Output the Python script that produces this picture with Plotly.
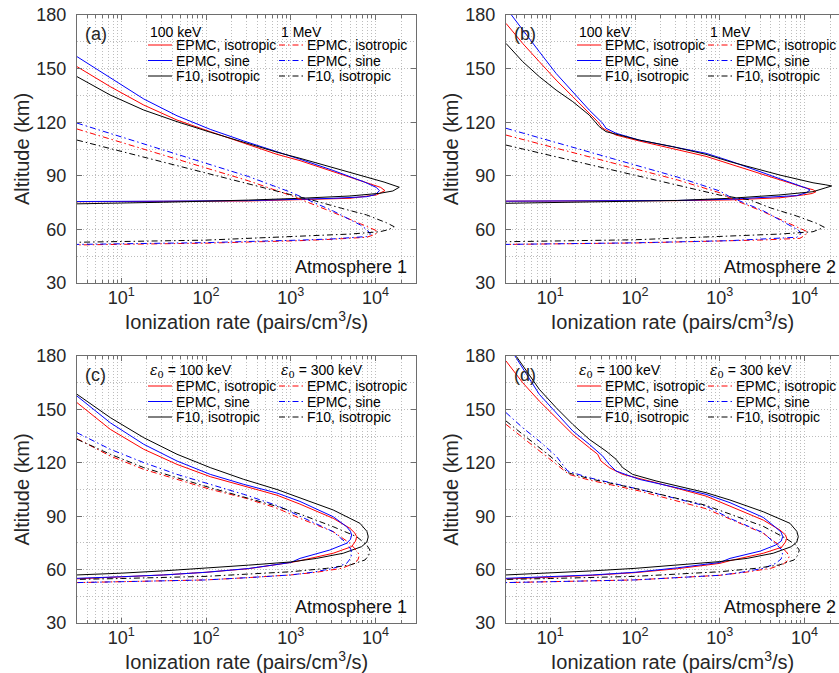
import math
import plotly.graph_objects as go

W, H = 839, 673

# ---------------- data (altitude km, ionization rate pairs/cm^3/s) ----------------
# Panel (a) Atmosphere 1, 100 keV (solid) and 1 MeV (dash-dot)
PA_ISO_LO_ALT = [151.1, 139.9, 129.6, 121.2, 114.7, 108.2, 102.0, 98.5, 92.3, 85.8, 83.5, 81.7, 79.3, 77.4, 76.5, 75.9, 75.7, 75.5]
PA_ISO_LO_RATE = [3.0, 7.4, 18.4, 45.4, 112, 278, 687, 1282, 3162, 7852, 11500, 12900, 10230, 4990, 1282, 316, 31.6, 3.0]
PA_SIN_LO_ALT = [156.7, 145.0, 133.0, 123.6, 116.0, 109.5, 103.6, 99.3, 93.0, 86.5, 83.5, 81.7, 79.5, 78.3, 77.4, 76.9, 76.1, 75.8, 75.6]
PA_SIN_LO_RATE = [3.0, 7.4, 18.4, 45.4, 112, 278, 687, 1282, 3162, 7400, 10200, 11100, 10000, 7852, 3162, 1282, 316, 31.6, 3.0]
PA_F10_LO_ALT = [145.5, 135.2, 126.8, 120.3, 114.4, 108.6, 103.2, 99.8, 94.5, 89.5, 86.5, 83.6, 81.5, 80.2, 78.7, 77.4, 76.4, 75.2, 74.3]
PA_F10_LO_RATE = [3.0, 7.4, 18.4, 45.4, 112, 278, 687, 1282, 3162, 7852, 12600, 19055, 16000, 11220, 4990, 1282, 316, 31.6, 3.0]
PA_ISO_HI_ALT = [116.2, 108.6, 101.4, 94.1, 87.2, 79.0, 77.0, 69.5, 63.2, 60.5, 59.1, 57.3, 55.6, 54.5, 53.7, 52.3, 51.3]
PA_ISO_HI_RATE = [3.0, 10, 31.6, 100, 316, 1000, 1282, 3162, 6607, 9000, 10471, 10000, 7852, 3162, 1282, 100, 3.0]
PA_SIN_HI_ALT = [119.5, 111.8, 104.4, 97.0, 89.6, 80.8, 78.5, 70.3, 62.5, 59.8, 57.4, 56.6, 56.0, 54.7, 54.0, 52.6, 51.6]
PA_SIN_HI_RATE = [3.0, 10, 31.6, 100, 316, 1000, 1282, 3162, 6607, 7943, 8700, 8400, 7852, 3162, 1282, 100, 3.0]
PA_F10_HI_ALT = [110.0, 103.7, 97.7, 91.7, 85.7, 79.7, 75.8, 71.8, 68.1, 63.7, 61.5, 59.8, 58.7, 57.4, 56.3, 54.0, 52.8]
PA_F10_HI_RATE = [3.0, 10, 31.6, 100, 316, 1000, 1995, 3981, 7852, 13490, 16596, 14125, 11220, 5012, 1282, 100, 3.0]

# Panel (b) Atmosphere 2, 100 keV (solid) and 1 MeV (dash-dot)
PB_ISO_LO_ALT = [175.3, 164.1, 153.9, 143.6, 134.3, 125.0, 120.3, 116.6, 112.8, 109.5, 105.4, 100.9, 96.6, 87.6, 83.6, 82.2, 81.1, 80.1, 79.3, 77.7, 76.5, 76.1, 75.9, 75.8]
PB_ISO_LO_RATE = [3.0, 4.72, 7.41, 11.7, 18.4, 28.8, 36.2, 41.5, 59.6, 112, 278, 687, 1318, 5129, 9661, 12600, 13646, 12300, 9661, 5129, 1318, 316, 31.6, 3.0]
PB_SIN_LO_ALT = [184.0, 180.0, 168.8, 159.5, 147.3, 137.1, 126.8, 119.4, 116.6, 113.8, 110.0, 106.3, 102.6, 98.3, 88.5, 84.3, 83.0, 82.1, 80.5, 78.9, 77.7, 76.9, 76.2, 75.9, 75.8]
PB_SIN_LO_RATE = [3.0, 3.47, 5.16, 7.41, 11.7, 18.4, 28.8, 41.5, 45.4, 59.6, 112, 278, 687, 1318, 5129, 8831, 10600, 11588, 10500, 8054, 3258, 1318, 316, 31.6, 3.0]
PB_F10_LO_ALT = [164.1, 153.9, 145.5, 138.0, 131.5, 124.0, 117.5, 114.7, 110.0, 106.3, 102.0, 97.9, 90.4, 86.1, 85.0, 84.3, 83.2, 81.1, 79.3, 77.4, 76.2, 75.3, 74.6]
PB_F10_LO_RATE = [3.0, 4.72, 7.41, 11.7, 18.4, 28.8, 37.8, 45.4, 112, 278, 687, 1318, 5129, 12589, 17500, 20893, 17500, 12589, 5129, 1318, 316, 31.6, 3.0]
PB_ISO_HI_ALT = [112.8, 106.3, 100.1, 93.9, 87.7, 80.5, 77.5, 69.9, 61.5, 59.8, 58.7, 57.0, 55.0, 54.1, 53.6, 52.4, 51.6]
PB_ISO_HI_RATE = [3.0, 10, 31.6, 100, 316, 1000, 1318, 3258, 8072, 10000, 10789, 10300, 8831, 3258, 1318, 100, 3.0]
PB_SIN_HI_ALT = [116.6, 109.5, 102.8, 96.0, 89.3, 81.5, 78.2, 70.4, 61.5, 59.5, 57.8, 56.6, 55.6, 54.5, 53.7, 52.5, 51.6]
PB_SIN_HI_RATE = [3.0, 10, 31.6, 100, 316, 1000, 1318, 3258, 7379, 8500, 9016, 8700, 8072, 3162, 1318, 100, 3.0]
PB_F10_HI_ALT = [107.2, 101.4, 95.8, 90.3, 84.7, 79.2, 76.5, 72.0, 67.5, 63.4, 61.2, 59.7, 58.7, 57.4, 56.3, 54.2, 53.1]
PB_F10_HI_RATE = [3.0, 10, 31.6, 100, 316, 1000, 2270, 3981, 8072, 13900, 17100, 14500, 12589, 5129, 1318, 100, 3.0]

# Panel (c) Atmosphere 1, eps0 = 100 keV (solid) and 300 keV (dash-dot)
PC_ISO_LO_ALT = [153.8, 138.8, 127.6, 119.1, 112.2, 107.0, 101.8, 96.8, 88.8, 83.2, 80.5, 78.5, 76.0, 72.9, 69.2, 65.0, 64.0, 60.5, 58.5, 57.0, 56.0, 54.8]
PC_ISO_LO_RATE = [3.0, 7.41, 18.4, 45.4, 112, 278, 687, 1282, 3162, 4989, 5700, 5984, 5800, 5224, 3162, 1282, 1000, 316, 100, 31.6, 10, 3.0]
PC_SIN_LO_ALT = [157.5, 142.5, 130.4, 121.0, 113.5, 107.9, 103.0, 98.3, 89.7, 84.1, 81.5, 79.4, 77.0, 74.8, 71.0, 66.3, 64.0, 60.6, 58.5, 57.0, 56.0, 55.1]
PC_SIN_LO_RATE = [3.0, 7.41, 18.4, 45.4, 112, 278, 687, 1282, 3162, 4560, 5050, 5224, 5050, 4560, 2884, 1282, 1000, 316, 100, 31.6, 10, 3.0]
PC_F10_LO_ALT = [158.5, 145.4, 134.1, 124.8, 117.3, 110.7, 105.0, 100.3, 93.5, 86.0, 81.5, 78.5, 75.5, 72.9, 69.2, 66.3, 64.8, 64.3, 62.5, 60.7, 59.3, 58.0, 57.0]
PC_F10_LO_RATE = [3.0, 7.41, 18.4, 45.4, 112, 278, 687, 1282, 3162, 6546, 7900, 8204, 7900, 6855, 4159, 2018, 1282, 1000, 316, 100, 31.6, 10, 3.0]
PC_ISO_HI_ALT = [133.6, 123.8, 116.3, 110.7, 105.1, 100.4, 94.5, 88.8, 81.3, 74.8, 70.5, 68.2, 65.5, 63.5, 60.7, 58.5, 57.0, 55.5, 54.2, 53.2, 52.7]
PC_ISO_HI_RATE = [3.0, 7.41, 18.4, 45.4, 112, 278, 687, 1282, 3162, 4989, 6000, 6442, 6200, 5600, 3981, 2000, 1000, 316, 100, 10, 3.0]
PC_SIN_HI_ALT = [136.9, 127.6, 120.1, 113.5, 107.9, 102.3, 96.0, 90.0, 81.3, 74.8, 71.5, 69.2, 66.5, 63.5, 60.7, 58.5, 57.0, 55.5, 54.2, 53.2, 52.7]
PC_SIN_HI_RATE = [3.0, 7.41, 18.4, 45.4, 112, 278, 687, 1282, 3162, 4560, 5100, 5224, 5100, 4560, 3162, 1800, 1000, 316, 100, 10, 3.0]
PC_F10_HI_ALT = [133.2, 124.8, 117.3, 111.6, 106.0, 100.8, 95.5, 91.2, 84.1, 78.5, 74.0, 71.0, 68.0, 65.4, 62.6, 60.7, 59.6, 58.8, 57.5, 56.2, 55.0, 54.5]
PC_F10_HI_RATE = [3.0, 7.41, 18.4, 45.4, 112, 278, 687, 1282, 3162, 5984, 7800, 8590, 8300, 7499, 5012, 2655, 1500, 1000, 316, 100, 10, 3.0]

# Panel (d) Atmosphere 2, eps0 = 100 keV (solid) and 300 keV (dash-dot)
PD_ISO_LO_ALT = [177.2, 165.0, 154.7, 145.4, 136.0, 128.5, 124.8, 121.0, 117.3, 113.5, 108.8, 101.3, 95.7, 87.8, 82.2, 79.5, 77.6, 75.5, 72.5, 69.2, 65.0, 63.5, 60.5, 58.3, 56.8, 55.6, 54.7]
PD_ISO_LO_RATE = [3.0, 4.72, 7.41, 11.7, 18.4, 28.8, 36.2, 39.6, 49.6, 71.4, 177, 687, 1318, 3258, 5129, 5950, 6152, 5950, 5346, 3258, 1318, 1000, 316, 100, 31.6, 10, 3.0]
PD_SIN_LO_ALT = [183.0, 180.0, 158.5, 148.2, 137.9, 130.4, 123.8, 119.1, 115.4, 110.7, 102.3, 97.6, 89.3, 83.7, 81.0, 78.5, 76.0, 73.8, 70.4, 66.3, 64.0, 61.0, 58.5, 57.0, 56.0, 55.1]
PD_SIN_LO_RATE = [3.55, 3.83, 7.41, 11.7, 18.4, 28.8, 41.5, 49.6, 59.6, 112, 687, 1318, 3258, 4560, 5300, 5521, 5300, 4560, 3000, 1318, 1000, 316, 100, 31.6, 10, 3.0]
PD_F10_LO_ALT = [184.0, 180.0, 161.3, 151.0, 141.6, 133.2, 126.6, 122.0, 117.3, 113.5, 109.8, 103.2, 99.1, 92.5, 86.0, 81.5, 78.5, 75.5, 72.9, 69.2, 66.3, 64.5, 62.5, 60.7, 59.3, 58.0, 57.0]
PD_F10_LO_RATE = [3.45, 3.94, 7.41, 11.7, 18.4, 28.8, 45.4, 59.6, 71.4, 93.5, 177, 687, 1318, 3258, 6730, 8100, 8433, 8100, 7000, 4266, 2100, 1000, 316, 100, 31.6, 10, 3.0]
PD_ISO_HI_ALT = [141.6, 134.1, 126.6, 119.1, 113.5, 110.3, 104.2, 94.2, 88.4, 80.4, 73.8, 70.0, 67.6, 65.0, 63.1, 60.7, 58.5, 56.8, 55.5, 54.2, 53.2, 52.7]
PD_ISO_HI_RATE = [3.0, 4.72, 7.41, 11.7, 16.6, 28.8, 112, 687, 1318, 3258, 4989, 6100, 6607, 6300, 5600, 3981, 2000, 1000, 316, 100, 10, 3.0]
PD_SIN_HI_ALT = [148.2, 139.7, 132.2, 123.8, 115.4, 111.6, 105.1, 95.7, 88.8, 80.7, 74.4, 71.5, 68.8, 66.0, 63.5, 60.7, 58.5, 56.8, 55.5, 54.2, 53.2, 52.7]
PD_SIN_HI_RATE = [3.0, 4.72, 7.41, 11.7, 16.0, 28.8, 112, 687, 1318, 3258, 4560, 5300, 5495, 5300, 4560, 3258, 1800, 1000, 316, 100, 10, 3.0]
PD_F10_HI_ALT = [143.5, 136.0, 128.5, 121.0, 114.5, 111.1, 105.1, 96.1, 91.2, 84.3, 77.6, 74.0, 71.0, 68.0, 65.4, 62.6, 60.7, 59.5, 58.8, 57.5, 56.2, 55.0, 54.5]
PD_F10_HI_RATE = [3.0, 4.72, 7.41, 11.7, 16.0, 28.8, 112, 687, 1318, 3258, 5984, 7800, 8670, 8300, 7499, 5012, 2655, 1500, 1000, 316, 100, 10, 3.0]

# Tick labels / texts
Y_TICKS = [30, 60, 90, 120, 150, 180]
Y_MINOR = [45, 75, 105, 135, 165]
X_TICKS = [10, 100, 1000, 10000]
X_TICKTEXT = ["10<sup>1</sup>", "10<sup>2</sup>", "10<sup>3</sup>", "10<sup>4</sup>"]
SERIES_LABELS = ["EPMC, isotropic", "EPMC, sine", "F10, isotropic"]
EPS = "<span style='font-family:DejaVu Serif'><i>ε</i><sub>0</sub></span>"
PANEL_INFO = [
    # key, atmosphere label, header low, header high
    ("a", "Atmosphere 1", "100 keV", "1 MeV"),
    ("b", "Atmosphere 2", "100 keV", "1 MeV"),
    ("c", "Atmosphere 1", EPS + " = 100 keV", EPS + " = 300 keV"),
    ("d", "Atmosphere 2", EPS + " = 100 keV", EPS + " = 300 keV"),
]
PANEL_DATA = {
    "a": [(PA_ISO_LO_ALT, PA_ISO_LO_RATE), (PA_SIN_LO_ALT, PA_SIN_LO_RATE), (PA_F10_LO_ALT, PA_F10_LO_RATE),
          (PA_ISO_HI_ALT, PA_ISO_HI_RATE), (PA_SIN_HI_ALT, PA_SIN_HI_RATE), (PA_F10_HI_ALT, PA_F10_HI_RATE)],
    "b": [(PB_ISO_LO_ALT, PB_ISO_LO_RATE), (PB_SIN_LO_ALT, PB_SIN_LO_RATE), (PB_F10_LO_ALT, PB_F10_LO_RATE),
          (PB_ISO_HI_ALT, PB_ISO_HI_RATE), (PB_SIN_HI_ALT, PB_SIN_HI_RATE), (PB_F10_HI_ALT, PB_F10_HI_RATE)],
    "c": [(PC_ISO_LO_ALT, PC_ISO_LO_RATE), (PC_SIN_LO_ALT, PC_SIN_LO_RATE), (PC_F10_LO_ALT, PC_F10_LO_RATE),
          (PC_ISO_HI_ALT, PC_ISO_HI_RATE), (PC_SIN_HI_ALT, PC_SIN_HI_RATE), (PC_F10_HI_ALT, PC_F10_HI_RATE)],
    "d": [(PD_ISO_LO_ALT, PD_ISO_LO_RATE), (PD_SIN_LO_ALT, PD_SIN_LO_RATE), (PD_F10_LO_ALT, PD_F10_LO_RATE),
          (PD_ISO_HI_ALT, PD_ISO_HI_RATE), (PD_SIN_HI_ALT, PD_SIN_HI_RATE), (PD_F10_HI_ALT, PD_F10_HI_RATE)],
}

# ---------------- styling ----------------
FONT = "Liberation Sans, Arial, Helvetica, sans-serif"
TXT = "#262626"
AXC = "#6e6e6e"
GRID = "#bdbdbd"
GRIDDASH = "1px,2px"
COLORS = ["#ff0000", "#0000ff", "#000000"]
DASHDOT = "6px,3px,1.5px,3px"
LINE_W = 1.0

# pixel layout of the four axes boxes: left, right, top, bottom
BOXES = {"a": (77, 416, 15, 283), "b": (506, 845, 15, 283),
         "c": (77, 416, 356, 623), "d": (506, 845, 356, 623)}
PX_PER_DECADE = 84.75
X_LO = math.log10(3.0)


def px(x):
    return x / W


def py(y):
    return 1 - y / H


fig = go.Figure()
layout = dict(width=W, height=H, margin=dict(l=0, r=0, t=0, b=0, pad=0, autoexpand=False),
              paper_bgcolor="white", plot_bgcolor="white", showlegend=False,
              font=dict(family=FONT, color=TXT))
annotations = []
shapes = []
minor_x = [k * 10 ** d for d in range(0, 5) for k in range(2, 10)]

for i, (key, atm, hlo, hhi) in enumerate(PANEL_INFO):
    n = "" if i == 0 else str(i + 1)
    l, r, t, b = BOXES[key]
    r_vis = min(r, W)            # the right-hand panels run past the picture edge
    x_hi = X_LO + (r_vis - l) / PX_PER_DECADE
    right_clipped = r > W
    for j, (alt, rate) in enumerate(PANEL_DATA[key]):
        fig.add_trace(go.Scatter(
            x=rate, y=alt, mode="lines", xaxis="x" + n, yaxis="y" + n,
            name=("low energy " if j < 3 else "high energy ") + SERIES_LABELS[j % 3],
            line=dict(color=COLORS[j % 3], width=LINE_W, dash="solid" if j < 3 else DASHDOT),
        ))
    layout["xaxis" + n] = dict(
        type="log", range=[X_LO, x_hi], domain=[px(l), px(r_vis)], anchor="y" + n, automargin=False,
        tickmode="array", tickvals=X_TICKS, ticktext=X_TICKTEXT,
        ticks="inside", ticklen=5, tickwidth=1, tickcolor=AXC,
        showline=True, linecolor=AXC, linewidth=1, mirror="ticks",
        showgrid=True, gridcolor=GRID, griddash=GRIDDASH, gridwidth=1, zeroline=False,
        minor=dict(tickmode="array", tickvals=minor_x, ticks="inside", ticklen=3,
                   tickcolor=AXC, showgrid=True, gridcolor=GRID, griddash=GRIDDASH, gridwidth=1),
        tickfont=dict(size=18, family=FONT, color=TXT), ticklabelstandoff=-2, ticklabeloverflow="allow",
        title=dict(text="Ionization rate (pairs/cm<sup>3</sup>/s)", font=dict(size=20, family=FONT, color=TXT), standoff=0),
    )
    layout["yaxis" + n] = dict(
        range=[30, 180], domain=[py(b), py(t)], anchor="x" + n, automargin=False,
        tickmode="array", tickvals=Y_TICKS,
        ticks="inside", ticklen=5, tickwidth=1, tickcolor=AXC,
        showline=True, linecolor=AXC, linewidth=1, mirror=False if right_clipped else "ticks",
        showgrid=True, gridcolor=GRID, griddash=GRIDDASH, gridwidth=1, zeroline=False,
        minor=dict(tickmode="array", tickvals=Y_MINOR, ticks="", showgrid=True,
                   gridcolor=GRID, griddash=GRIDDASH, gridwidth=1),
        tickfont=dict(size=18, family=FONT, color=TXT), ticklabelstandoff=6, ticklabeloverflow="allow",
        title=dict(text="Altitude (km)", font=dict(size=20, family=FONT, color=TXT), standoff=1),
    )
    # panel label and atmosphere label
    annotations.append(dict(text="(" + key + ")", x=px(l + 6), y=py(t + 19), xref="paper", yref="paper",
                            xanchor="left", yanchor="middle", showarrow=False,
                            font=dict(size=18, family=FONT, color=TXT)))
    annotations.append(dict(text=atm, x=px(l + 216), y=py(b - 16), xref="paper", yref="paper",
                            xanchor="left", yanchor="middle", showarrow=False,
                            font=dict(size=18, family=FONT, color="#111111")))
    # two-column legend
    hdr_dy = 17 if key in ("a", "b") else 15
    for c, hdr in enumerate([hlo, hhi]):
        cx = l + (71 if c == 0 else 202)
        annotations.append(dict(text=hdr, x=px(cx), y=py(t + hdr_dy), xref="paper", yref="paper",
                                xanchor="left", yanchor="middle", showarrow=False,
                                font=dict(size=14, family=FONT, color="#000000")))
        for k, lab in enumerate(SERIES_LABELS):
            ry = t + 30 + 15.5 * k
            shapes.append(dict(type="line", xref="paper", yref="paper",
                               x0=px(cx), x1=px(cx + 24), y0=py(ry), y1=py(ry),
                               line=dict(color=COLORS[k], width=LINE_W, dash="solid" if c == 0 else DASHDOT)))
            annotations.append(dict(text=lab, x=px(cx + 26), y=py(ry), xref="paper", yref="paper",
                                    xanchor="left", yanchor="middle", showarrow=False,
                                    font=dict(size=14, family=FONT, color="#000000")))

layout["annotations"] = annotations
layout["shapes"] = shapes
fig.update_layout(**layout)
# remove the browser's default 8 px page margin so the figure sits at the window origin
fig.write_html("out.html", config={"displayModeBar": False},
               post_script="document.body.style.margin='0px';")
